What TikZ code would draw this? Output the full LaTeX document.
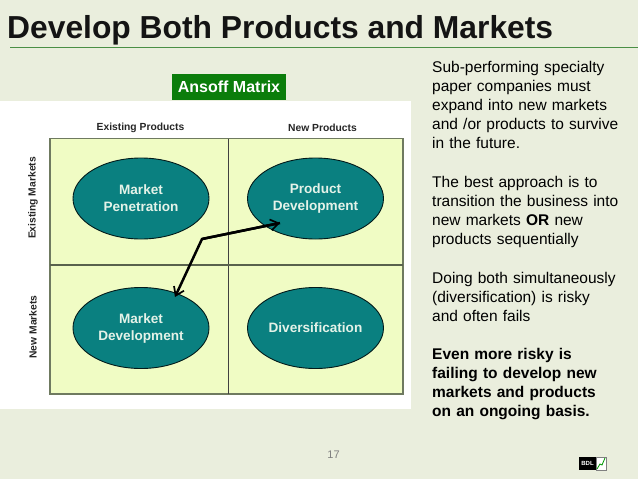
\documentclass[tikz,border=0pt]{standalone}
\usepackage{fontspec}
\setmainfont{Liberation Sans}
\usetikzlibrary{arrows.meta,shapes.geometric}
\definecolor{bgc}{HTML}{EAEEDD}
\definecolor{gridfill}{HTML}{F0FCC4}
\definecolor{gridline}{HTML}{6F7A60}
\definecolor{tealc}{HTML}{0A8080}
\definecolor{labelgreen}{HTML}{0B7D0B}
\definecolor{rulegreen}{HTML}{4A8F45}
\definecolor{elltext}{HTML}{E4F2E8}
\tikzset{
  oval/.style={ellipse,draw=black!80!tealc,line width=0.9pt,fill=tealc,minimum width=136pt,minimum height=81pt,inner sep=0pt,
    text=elltext,font=\fontsize{13.6}{17}\selectfont\bfseries,align=center},
  axis/.style={font=\fontsize{10.3}{12}\selectfont\bfseries,text=black!85,inner sep=0pt},
  para/.style={anchor=north west,align=left,inner sep=0pt,text width=205pt,font=\fontsize{15.5}{19}\selectfont},
  mover/.style={line width=2.5pt,draw=black,-{Straight Barb[length=8pt,width=11pt,line width=1.7pt]}}
}
\begin{document}
\begin{tikzpicture}[x=1pt,y=-1pt]
\useasboundingbox (0,0) rectangle (638,479);
\fill[bgc] (0,0) rectangle (638,479);
\node[anchor=base west,inner sep=0pt,font=\fontsize{31.8}{34}\selectfont\bfseries,text=black!92] (title) at (7,38) {Develop Both Products and Markets};
\draw[rulegreen,line width=1.6pt] (10,47.5) -- (638,47.5);
\fill[white] (0,101) rectangle (411,409);
\node[fill=labelgreen,text=white,font=\fontsize{16}{18}\selectfont\bfseries,minimum width=114pt,minimum height=26pt,inner sep=0pt] (ansoff) at (229,87) {Ansoff Matrix};
\draw[gridline,fill=gridfill,line width=1.2pt] (50,138.5) rectangle (403,394);
\draw[black!75,line width=1.8pt] (228.5,138.5) -- (228.5,394);
\draw[gridline!80!black,line width=1.8pt] (50,265) -- (403,265);
\node[axis] (ep) at (140.5,127.5) {Existing Products};
\node[axis] (np) at (322.5,127.5) {New Products};
\node[axis,rotate=90] (em) at (33,198) {Existing Markets};
\node[axis,rotate=90] (nm) at (33,327) {New Markets};
\node[oval] (mp) at (141,198.5) {Market\\Penetration};
\node[oval] (pd) at (315.5,198.5) {Product\\Development};
\node[oval] (md) at (141,328) {Market\\Development};
\node[oval] (dv) at (315.5,328) {Diversification};
\coordinate (bend) at (202,239);
\coordinate (pdtip) at (280,223);
\coordinate (mdtip) at (175,297);
\draw[mover,line join=round] (pdtip) -- (bend) -- (mdtip);
\draw[mover] (bend) -- (pdtip);
\node[para] (t1) at (432,61) {Sub-performing specialty\\paper companies must\\expand into new markets\\and /or products to survive\\in the future.};
\node[para] (t2) at (432,176) {The best approach is to\\transition the business into\\new markets \textbf{OR} new\\products sequentially};
\node[para] (t3) at (432,272) {Doing both simultaneously\\(diversification) is risky\\and often fails};
\node[para,font=\fontsize{15.5}{19}\selectfont\bfseries] (t4) at (432,348) {Even more risky is\\failing to develop new\\markets and products\\on an ongoing basis.};
\node[inner sep=0pt,text=black!50,font=\fontsize{11}{12}\selectfont] (num) at (333.5,454.5) {17};
\fill[black] (579,457) rectangle (596,470);
\draw[black!50,fill=white,line width=.4pt] (596,457) rectangle (606,470);
\node[inner sep=0pt,text=white,font=\fontsize{6}{7}\selectfont\bfseries] (bdl) at (587.5,463.5) {BDL};
\coordinate (c1) at (597,469);
\coordinate (c2) at (600,464);
\coordinate (c3) at (602,465);
\coordinate (c4) at (605,458);
\draw[green!60!black,line width=.8pt] (c1) -- (c2) -- (c3) -- (c4);
\end{tikzpicture}
\end{document}
